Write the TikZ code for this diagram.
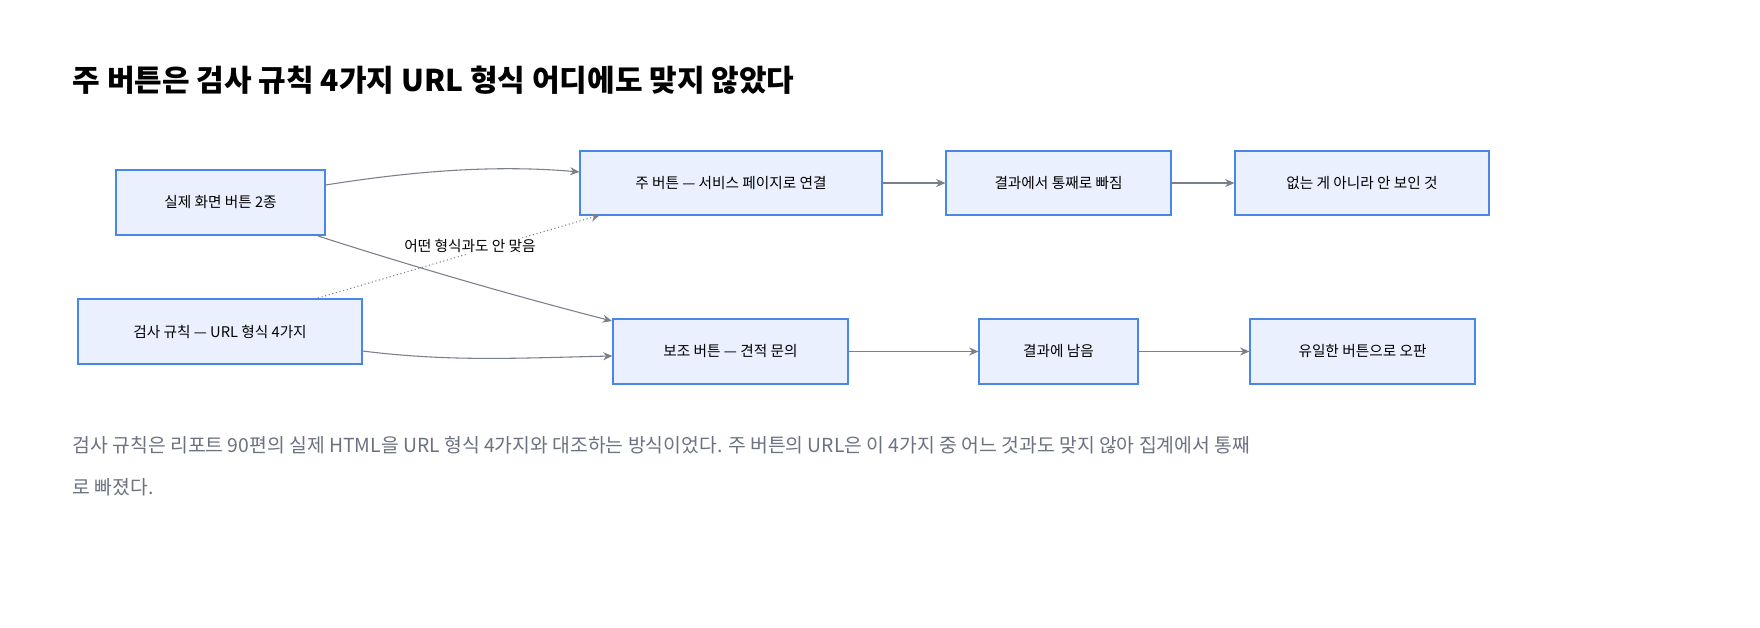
\documentclass[tikz,border=0pt]{standalone}
\usepackage{fontspec}
\setmainfont{Noto Sans CJK KR}
\usetikzlibrary{arrows.meta}
\definecolor{boxfill}{HTML}{EAF0FE}
\definecolor{boxline}{HTML}{4A86E8}
\definecolor{edge}{HTML}{7A7F8C}
\definecolor{cap}{HTML}{6B7280}
\tikzset{
 box/.style={draw=boxline,fill=boxfill,line width=0.8pt,inner sep=0pt,font=\fontsize{11}{13}\selectfont},
 arr/.style={draw=edge,line width=0.8pt,-{Stealth[length=7pt,width=6pt]}},
}
\begin{document}
\begin{tikzpicture}[x=0.75pt,y=-0.75pt]
\useasboundingbox[fill=white] (0,0) rectangle (1760,628);
\node[anchor=west,font=\bfseries\fontsize{22.5}{26}\selectfont] (title) at (68,80) {주 버튼은 검사 규칙 4가지 URL 형식 어디에도 맞지 않았다};
\newcommand{\bx}[6]{\node[box,minimum width=#4*0.75pt,minimum height=#5*0.75pt] (#1) at (#2,#3) {#6};}
\bx{A}{220.5}{202.5}{209}{65}{실제 화면 버튼 2종}
\bx{B}{220}{331.5}{284}{65}{검사 규칙 — URL 형식 4가지}
\bx{C}{731}{183}{302}{64}{주 버튼 — 서비스 페이지로 연결}
\bx{D}{1058.5}{183}{225}{64}{결과에서 통째로 빠짐}
\bx{E}{1362}{183}{254}{64}{없는 게 아니라 안 보인 것}
\bx{F}{730.5}{351.5}{235}{65}{보조 버튼 — 견적 문의}
\bx{G}{1058.5}{351.5}{159}{65}{결과에 남음}
\bx{H}{1362.5}{351.5}{225}{65}{유일한 버튼으로 오판}
\coordinate (aout) at (318,236);
\coordinate (fin) at (612,321);
\draw[arr] (A.east|-0,185) .. controls (420,170) and (500,165) .. (C.west|-0,172);
\draw[arr] (aout) .. controls (430,272) and (530,300) .. (fin);
\draw[arr] (B.east|-0,351) .. controls (450,362) and (520,358) .. (F.west|-0,356);
\draw[arr,dotted] (318,298) -- (600,215);
\node[fill=white,inner sep=1pt,font=\fontsize{11}{13}\selectfont] (lbl) at (470,246) {어떤 형식과도 안 맞음};
\draw[arr] (C) -- (D);
\draw[arr] (D) -- (E);
\draw[arr] (F) -- (G);
\draw[arr] (G) -- (H);
\node[anchor=west,text=cap,font=\fontsize{14.5}{18}\selectfont] (cap1) at (68,445) {검사 규칙은 리포트 90편의 실제 HTML을 URL 형식 4가지와 대조하는 방식이었다. 주 버튼의 URL은 이 4가지 중 어느 것과도 맞지 않아 집계에서 통째};
\node[anchor=west,text=cap,font=\fontsize{14.5}{18}\selectfont] (cap2) at (68,487) {로 빠졌다.};
\end{tikzpicture}
\end{document}
